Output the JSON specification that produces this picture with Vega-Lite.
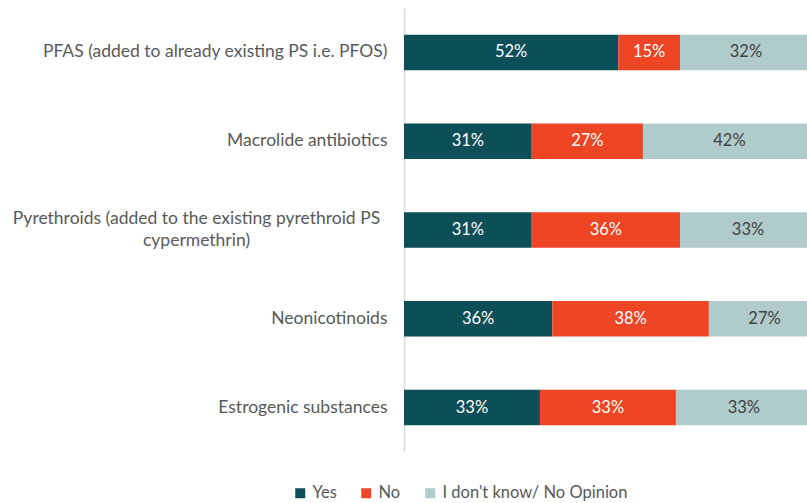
{
  "$schema": "https://vega.github.io/schema/vega-lite/v6.json",
  "autosize": {"type": "none"},
  "padding": {"left": 404, "top": 8, "right": 0, "bottom": 51},
  "width": 412,
  "height": 444,
  "background": "white",
  "config": {
    "view": {"stroke": null},
    "font": "Lato"
  },
  "data": {
    "values": [
      {"item": "PFAS (added to already existing PS i.e. PFOS)", "response": "Yes", "value": 0.52},
      {"item": "PFAS (added to already existing PS i.e. PFOS)", "response": "No", "value": 0.15},
      {"item": "PFAS (added to already existing PS i.e. PFOS)", "response": "I don't know/ No Opinion", "value": 0.32},
      {"item": "Macrolide antibiotics", "response": "Yes", "value": 0.31},
      {"item": "Macrolide antibiotics", "response": "No", "value": 0.27},
      {"item": "Macrolide antibiotics", "response": "I don't know/ No Opinion", "value": 0.42},
      {"item": "Pyrethroids (added to the existing pyrethroid PS cypermethrin)", "response": "Yes", "value": 0.31},
      {"item": "Pyrethroids (added to the existing pyrethroid PS cypermethrin)", "response": "No", "value": 0.36},
      {"item": "Pyrethroids (added to the existing pyrethroid PS cypermethrin)", "response": "I don't know/ No Opinion", "value": 0.33},
      {"item": "Neonicotinoids", "response": "Yes", "value": 0.36},
      {"item": "Neonicotinoids", "response": "No", "value": 0.38},
      {"item": "Neonicotinoids", "response": "I don't know/ No Opinion", "value": 0.27},
      {"item": "Estrogenic substances", "response": "Yes", "value": 0.33},
      {"item": "Estrogenic substances", "response": "No", "value": 0.33},
      {"item": "Estrogenic substances", "response": "I don't know/ No Opinion", "value": 0.33}
    ]
  },
  "encoding": {
    "y": {
      "field": "item",
      "type": "nominal",
      "sort": null,
      "scale": {"paddingInner": 0.6, "paddingOuter": 0.3},
      "axis": {
        "title": null,
        "ticks": false,
        "domainColor": "#d9d9d9",
        "domainWidth": 1.5,
        "labelFontSize": 17.5,
        "labelColor": "#595959",
        "labelLimit": 500,
        "labelLineHeight": 22,
        "labelAlign": {"condition": {"test": "indexof(datum.value, 'Pyrethroids') >= 0", "value": "center"}, "value": "right"},
        "labelPadding": {"condition": {"test": "indexof(datum.value, 'Pyrethroids') >= 0", "value": 208}, "value": 17},
        "labelOffset": {"condition": {"test": "indexof(datum.value, 'Pyrethroids') >= 0", "value": -11}, "value": 0},
        "labelExpr": "indexof(datum.value, 'Pyrethroids') >= 0 ? ['Pyrethroids (added to the existing pyrethroid PS', 'cypermethrin)'] : datum.value"
      }
    },
    "x": {
      "field": "value",
      "type": "quantitative",
      "stack": "zero",
      "scale": {"domain": [0, 1], "nice": false},
      "axis": null
    },
    "order": {"field": "response", "sort": "descending"}
  },
  "layer": [
    {
      "mark": {"type": "bar"},
      "encoding": {
        "color": {
          "field": "response",
          "type": "nominal",
          "scale": {
            "domain": ["Yes", "No", "I don't know/ No Opinion"],
            "range": ["#0c4f58", "#ee4524", "#b0cbcb"]
          },
          "legend": {
            "title": null,
            "orient": "none",
            "direction": "horizontal",
            "legendX": -112,
            "legendY": 477,
            "symbolType": "square",
            "symbolSize": 100,
            "symbolStrokeWidth": 0,
            "labelFontSize": 16.5,
            "labelColor": "#595959",
            "labelOffset": 4,
            "labelLimit": 400,
            "columnPadding": 21,
            "gridAlign": "none"
          }
        }
      }
    },
    {
      "mark": {"type": "text", "fontSize": 16.5},
      "encoding": {
        "x": {"field": "value", "type": "quantitative", "stack": "zero", "bandPosition": 0.5},
        "text": {"field": "value", "type": "quantitative", "format": ".0%"},
        "color": {
          "condition": {"test": "datum.response == 'Yes' || datum.response == 'No'", "value": "white"},
          "value": "#404040"
        }
      }
    }
  ]
}
